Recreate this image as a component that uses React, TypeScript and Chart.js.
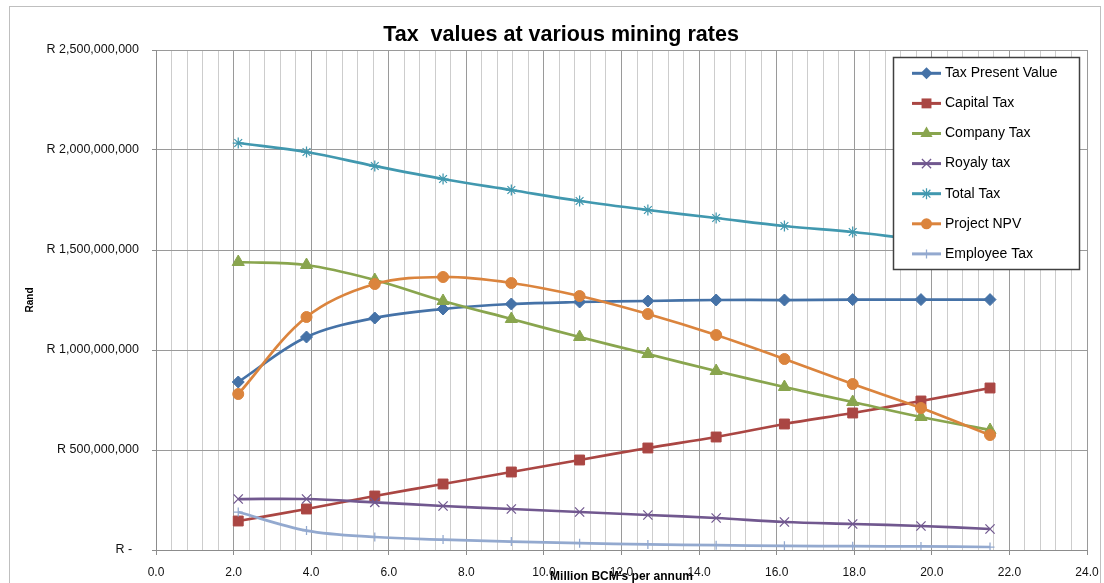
import React, { useEffect, useRef } from 'react';
import { Chart, registerables } from 'chart.js';

Chart.register(...registerables);

// ---- data (Rand) ----
const xValues = [2.12, 3.88, 5.64, 7.4, 9.16, 10.92, 12.68, 14.44, 16.2, 17.96, 19.72, 21.5];
const taxPresentValue = [840e6, 1065e6, 1160e6, 1205e6, 1230e6, 1240e6, 1245e6, 1250e6, 1250e6, 1252e6, 1252e6, 1252e6];
const capitalTax = [145e6, 205e6, 270e6, 330e6, 390e6, 450e6, 510e6, 565e6, 630e6, 685e6, 745e6, 810e6];
const companyTax = [1440e6, 1425e6, 1350e6, 1245e6, 1155e6, 1065e6, 980e6, 895e6, 815e6, 740e6, 665e6, 600e6];
const royaltyTax = [255e6, 255e6, 238e6, 220e6, 205e6, 190e6, 175e6, 160e6, 140e6, 130e6, 120e6, 105e6];
const totalTax = [2035e6, 1990e6, 1920e6, 1855e6, 1800e6, 1745e6, 1700e6, 1660e6, 1620e6, 1590e6, 1552e6, 1522e6];
const projectNPV = [780e6, 1165e6, 1330e6, 1365e6, 1335e6, 1270e6, 1180e6, 1075e6, 955e6, 830e6, 710e6, 575e6];
const employeeTax = [190e6, 97e6, 65e6, 52e6, 42e6, 34e6, 28e6, 24e6, 21e6, 19e6, 18e6, 15e6];

const seriesNames = ['Tax Present Value', 'Capital Tax', 'Company Tax', 'Royaly tax', 'Total Tax', 'Project NPV', 'Employee Tax'];
const seriesValues = [taxPresentValue, capitalTax, companyTax, royaltyTax, totalTax, projectNPV, employeeTax];
const seriesColors = ['#4572A7', '#AA4643', '#89A54E', '#71588F', '#4198AF', '#DB843D', '#93A9CF'];
const pointStyles = ['rectRot', 'rect', 'triangle', 'crossRot', 'star', 'circle', 'cross'];
const pointRadii = [6, 7, 7, 6.5, 5.5, 5.5, 4.5];

const chartTitle = 'Tax  values at various mining rates';
const xAxisTitle = "Million BCM's per annum";
const yAxisTitle = 'Rand';

const FONT = '"Liberation Sans", Arial, sans-serif';
const W = 1104;
const H = 583;

function drawMarker(ctx: CanvasRenderingContext2D, style: string, x: number, y: number, r: number, color: string) {
  ctx.save();
  ctx.fillStyle = color;
  ctx.strokeStyle = color;
  ctx.lineWidth = 1.25;
  ctx.beginPath();
  const d = r * Math.SQRT1_2;
  switch (style) {
    case 'circle':
      ctx.arc(x, y, r, 0, Math.PI * 2);
      ctx.fill();
      break;
    case 'rect':
      ctx.rect(x - d, y - d, 2 * d, 2 * d);
      ctx.fill();
      break;
    case 'rectRot':
      ctx.moveTo(x, y - r);
      ctx.lineTo(x + r, y);
      ctx.lineTo(x, y + r);
      ctx.lineTo(x - r, y);
      ctx.closePath();
      ctx.fill();
      break;
    case 'triangle': {
      let a = 0;
      ctx.moveTo(x + Math.sin(a) * r, y - Math.cos(a) * r);
      a += (2 * Math.PI) / 3;
      ctx.lineTo(x + Math.sin(a) * r, y - Math.cos(a) * r);
      a += (2 * Math.PI) / 3;
      ctx.lineTo(x + Math.sin(a) * r, y - Math.cos(a) * r);
      ctx.closePath();
      ctx.fill();
      break;
    }
    case 'crossRot':
      ctx.moveTo(x - d, y - d); ctx.lineTo(x + d, y + d);
      ctx.moveTo(x - d, y + d); ctx.lineTo(x + d, y - d);
      ctx.stroke();
      break;
    case 'cross':
      ctx.moveTo(x, y - r); ctx.lineTo(x, y + r);
      ctx.moveTo(x - r, y); ctx.lineTo(x + r, y);
      ctx.stroke();
      break;
    case 'star':
      ctx.moveTo(x, y - r); ctx.lineTo(x, y + r);
      ctx.moveTo(x - r, y); ctx.lineTo(x + r, y);
      ctx.moveTo(x - d, y - d); ctx.lineTo(x + d, y + d);
      ctx.moveTo(x - d, y + d); ctx.lineTo(x + d, y - d);
      ctx.stroke();
      break;
  }
  ctx.restore();
}

const decorPlugin = {
  id: 'decor',
  beforeDraw(chart: any) {
    const ctx = chart.ctx as CanvasRenderingContext2D;
    ctx.save();
    ctx.fillStyle = '#ffffff';
    ctx.fillRect(0, 0, chart.width, chart.height);
    ctx.strokeStyle = '#bfbfbf';
    ctx.lineWidth = 1;
    ctx.strokeRect(9.5, 6.5, 1091, 600);
    ctx.restore();
  },
  afterDraw(chart: any) {
    const ctx = chart.ctx as CanvasRenderingContext2D;
    ctx.save();
    // title
    ctx.fillStyle = '#000';
    ctx.font = `bold 21.5px ${FONT}`;
    ctx.textAlign = 'center';
    ctx.textBaseline = 'alphabetic';
    ctx.fillText(chartTitle, 561, 41);

    // legend
    const lx = 893.5, ly = 57.5, lw = 186, lh = 212;
    ctx.fillStyle = '#ffffff';
    ctx.fillRect(lx, ly, lw, lh);
    ctx.strokeStyle = '#404040';
    ctx.lineWidth = 1.5;
    ctx.strokeRect(lx, ly, lw, lh);
    ctx.font = `14px ${FONT}`;
    ctx.textAlign = 'left';
    ctx.textBaseline = 'middle';
    seriesNames.forEach((name, i) => {
      const y = 73.3 + i * 30.1;
      ctx.strokeStyle = seriesColors[i];
      ctx.lineWidth = 3;
      ctx.beginPath();
      ctx.moveTo(912, y);
      ctx.lineTo(941, y);
      ctx.stroke();
      drawMarker(ctx, pointStyles[i], 926.5, y, pointRadii[i], seriesColors[i]);
      ctx.fillStyle = '#000';
      ctx.fillText(name, 945, y);
    });
    ctx.restore();
  },
};

const isMajorX = (v: number) => Math.abs(v / 2 - Math.round(v / 2)) < 1e-6;

export default function App() {
  const canvasRef = useRef<HTMLCanvasElement | null>(null);

  useEffect(() => {
    if (!canvasRef.current) return;
    Chart.defaults.font.family = FONT;
    const datasets = seriesNames.map((name, i) => ({
      label: name,
      data: xValues.map((x, j) => ({ x, y: seriesValues[i][j] })),
      borderColor: seriesColors[i],
      backgroundColor: seriesColors[i],
      pointBackgroundColor: seriesColors[i],
      pointBorderColor: seriesColors[i],
      pointStyle: pointStyles[i],
      pointRadius: pointRadii[i],
      pointBorderWidth: ['crossRot', 'star', 'cross'].includes(pointStyles[i]) ? 1.25 : 1,
      borderWidth: 2.75,
      tension: 0.35,
      fill: false,
      order: seriesNames.length - 1 - i,
    }));

    const chart = new Chart(canvasRef.current, {
      type: 'line',
      data: { datasets },
      plugins: [decorPlugin],
      options: {
        animation: false,
        responsive: false,
        devicePixelRatio: 1,
        layout: { padding: { left: 0, top: 50, right: 17, bottom: 0 } },
        plugins: {
          legend: { display: false },
          title: { display: false },
          tooltip: { enabled: false },
        },
        scales: {
          x: {
            type: 'linear',
            min: 0,
            max: 24,
            afterFit: (scale: any) => {
              scale.height = 33;
              scale.paddingLeft = 0;
              scale.paddingRight = 0;
            },
            ticks: {
              stepSize: 0.4,
              autoSkip: false,
              maxRotation: 0,
              padding: 10,
              color: '#111',
              font: { size: 12, family: FONT },
              callback: (v: any) => (isMajorX(Number(v)) ? Number(v).toFixed(1) : ''),
            },
            grid: {
              color: (c: any) => (c.tick && isMajorX(c.tick.value) ? '#9a9a9a' : '#cdcdcd'),
              tickColor: (c: any) => (c.tick && isMajorX(c.tick.value) ? '#8c8c8c' : 'rgba(0,0,0,0)'),
              tickLength: 5,
              lineWidth: 1,
            },
            border: { display: true, color: '#8c8c8c', width: 1 },
            title: {
              display: true,
              text: xAxisTitle,
              color: '#000',
              font: { size: 12, weight: 'bold', family: FONT, lineHeight: 1 },
              padding: { top: 0, bottom: 0 },
            },
          },
          y: {
            type: 'linear',
            min: 0,
            max: 2500000000,
            afterFit: (scale: any) => {
              scale.width = 156;
              scale.paddingTop = 0;
              scale.paddingBottom = 0;
            },
            ticks: {
              stepSize: 500000000,
              padding: 13,
              color: '#111',
              font: { size: 12.5, family: FONT },
              callback: (v: any) => (Number(v) === 0 ? 'R -  ' : 'R ' + Number(v).toLocaleString('en-US')),
            },
            grid: {
              color: '#9a9a9a',
              tickColor: '#8c8c8c',
              tickLength: 4,
              lineWidth: 1,
            },
            border: { display: true, color: '#8c8c8c', width: 1 },
            title: {
              display: true,
              text: yAxisTitle,
              color: '#000',
              font: { size: 10, weight: 'bold', family: FONT },
              padding: { top: 24, bottom: 0 },
            },
          },
        },
      } as any,
    });
    return () => chart.destroy();
  }, []);

  return (
    <div style={{ position: 'fixed', left: 0, top: 0, width: W, height: H, background: '#fff' }}>
      <canvas ref={canvasRef} width={W} height={H} style={{ display: 'block', width: W, height: H }} />
    </div>
  );
}
